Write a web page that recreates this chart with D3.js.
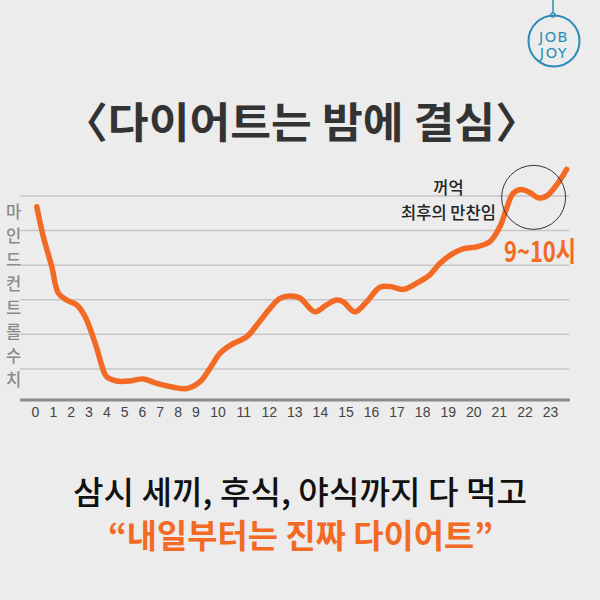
<!DOCTYPE html>
<html><head><meta charset="utf-8">
<script src="https://cdn.jsdelivr.net/npm/d3@7/dist/d3.min.js"></script>
<style>
html,body{margin:0;padding:0;background:#ececec;}
svg{display:block;}
</style></head>
<body>
<svg id="chart" width="600" height="600"></svg>
<script>
// ---- data ----
const hourLabels = ["0","1","2","3","4","5","6","7","8","9","10","11","12","13","14","15","16","17","18","19","20","21","22","23"];
const hours = [0.10,0.47,0.94,1.31,1.78,2.34,2.81,3.37,3.83,4.02,4.58,5.33,6.08,6.83,7.76,8.51,9.21,9.66,10.09,10.55,11.14,11.59,12.05,12.44,12.83,13.22,13.80,14.26,14.65,14.91,15.37,15.83,16.35,16.74,17.26,17.79,18.30,18.69,19.21,19.60,20.13,20.65,21.04,21.30,21.56,21.89,22.21,22.54,22.87,23.26,23.65];
const mindControl = [4.69,3.82,2.96,2.19,1.99,1.85,1.51,0.75,-0.03,-0.23,-0.35,-0.35,-0.29,-0.42,-0.53,-0.57,-0.37,0.02,0.45,0.71,0.93,1.32,1.75,2.04,2.11,2.05,1.65,1.85,1.99,1.94,1.65,1.94,2.36,2.38,2.30,2.48,2.72,3.05,3.34,3.47,3.53,3.68,4.11,4.64,5.08,5.19,5.10,4.95,5.00,5.32,5.77];
const gridValues = [0,1,2,3,4,5];
const yAxisChars = ["마","인","드","컨","트","롤","수","치"];
const title = "〈다이어트는 밤에 결심〉";
const noteLines = ["꺼억","최후의 만찬임"];
const highlightLabel = "9~10시";
const highlightHours = [21.3, 23.3];
const bottomLine1 = "삼시 세끼, 후식, 야식까지 다 먹고";
const bottomLine2 = "“내일부터는 진짜 다이어트”";
const logoLines = ["JOB","JOY"];

// ---- setup ----
const svg = d3.select("#chart");
const ORANGE = "#f26a24";
const KR = "'Noto Sans CJK KR','Noto Sans',sans-serif";

const x = d3.scaleLinear().domain([0,9,10,23]).range([35,195.4,217.6,550]);
const y = d3.scaleLinear().domain([-0.9,5]).range([400,196]);

svg.append("rect").attr("width",600).attr("height",600).attr("fill","#ececec");

// logo
const logo = svg.append("g").attr("fill","none").attr("stroke","#2b8cb8");
logo.append("line").attr("x1",553).attr("x2",553).attr("y1",0).attr("y2",13).attr("stroke-width",1.5);
logo.append("circle").attr("cx",553).attr("cy",15).attr("r",2.2).attr("stroke-width",1.2);
logo.append("circle").attr("cx",554).attr("cy",41).attr("r",25.5).attr("stroke-width",2);
svg.append("g").selectAll("text").data(logoLines).join("text")
  .attr("x",554).attr("y",(d,i)=>41.5+i*16).attr("text-anchor","middle")
  .attr("font-family","'DejaVu Sans',sans-serif").attr("font-size",14.5).attr("fill","#2b8cb8")
  .attr("letter-spacing",1.5).text(d=>d);

// title
svg.append("text").attr("x",301.5).attr("y",138).attr("text-anchor","middle")
  .attr("font-family",KR).attr("font-weight",700).attr("font-size",42).attr("fill","#333")
  .attr("textLength",476).attr("lengthAdjust","spacingAndGlyphs").text(title);

// gridlines
svg.append("g").selectAll("line").data(gridValues).join("line")
  .attr("x1",20).attr("x2",569).attr("y1",d=>y(d)).attr("y2",d=>y(d))
  .attr("stroke","#c6c6c6").attr("stroke-width",1.5);

// x axis
const xAxis = d3.axisBottom(x).tickValues(d3.range(24)).tickFormat((d,i)=>hourLabels[i]).tickSize(0).tickPadding(7);
const gx = svg.append("g").attr("transform",`translate(0,${y(-0.9)})`).call(xAxis);
gx.select(".domain").remove();
gx.selectAll("text").attr("font-family","'Liberation Sans',Arial,sans-serif").attr("font-size",14).attr("fill","#444");
svg.append("line").attr("x1",20).attr("x2",570).attr("y1",y(-0.9)).attr("y2",y(-0.9))
  .attr("stroke","#8c8c8c").attr("stroke-width",3);

// y axis label (vertical)
svg.append("g").selectAll("text").data(yAxisChars).join("text")
  .attr("x",13.5).attr("y",(d,i)=>212+i*24).attr("dy","0.38em").attr("text-anchor","middle")
  .attr("font-family",KR).attr("font-weight",500).attr("font-size",16.5).attr("fill","#8a8a8a").text(d=>d);

// line
const pts = hours.map((h,i)=>[h,mindControl[i]]);
svg.append("path").datum(pts)
  .attr("d",d3.line().x(d=>x(d[0])).y(d=>y(d[1])).curve(d3.curveCatmullRom.alpha(0.5)))
  .attr("fill","none").attr("stroke",ORANGE).attr("stroke-width",5.5).attr("stroke-linecap","round").attr("stroke-linejoin","round");

// annotation circle
const cx = (x(highlightHours[0])+x(highlightHours[1]))/2;
svg.append("circle").attr("cx",cx+1.5).attr("cy",y(4.96)).attr("r",32)
  .attr("fill","none").attr("stroke","#333").attr("stroke-width",1);

svg.append("g").selectAll("text").data(noteLines).join("text")
  .attr("x",448.5).attr("y",(d,i)=>194+i*25).attr("text-anchor","middle")
  .attr("font-family",KR).attr("font-weight",500).attr("font-size",16.5).attr("fill","#222").text(d=>d);

svg.append("text").attr("x",540).attr("y",262).attr("text-anchor","middle")
  .attr("font-family",KR).attr("font-weight",600).attr("font-size",28).attr("fill",ORANGE)
  .attr("textLength",72).attr("lengthAdjust","spacingAndGlyphs").text(highlightLabel);

// bottom text
svg.append("text").attr("x",300).attr("y",504).attr("text-anchor","middle")
  .attr("font-family",KR).attr("font-weight",500).attr("font-size",32).attr("fill","#111")
  .attr("textLength",454).attr("lengthAdjust","spacingAndGlyphs").text(bottomLine1);
svg.append("text").attr("x",300.5).attr("y",548).attr("text-anchor","middle")
  .attr("font-family",KR).attr("font-weight",700).attr("font-size",33).attr("fill",ORANGE)
  .attr("textLength",385).attr("lengthAdjust","spacingAndGlyphs").text(bottomLine2);
</script>
</body></html>
